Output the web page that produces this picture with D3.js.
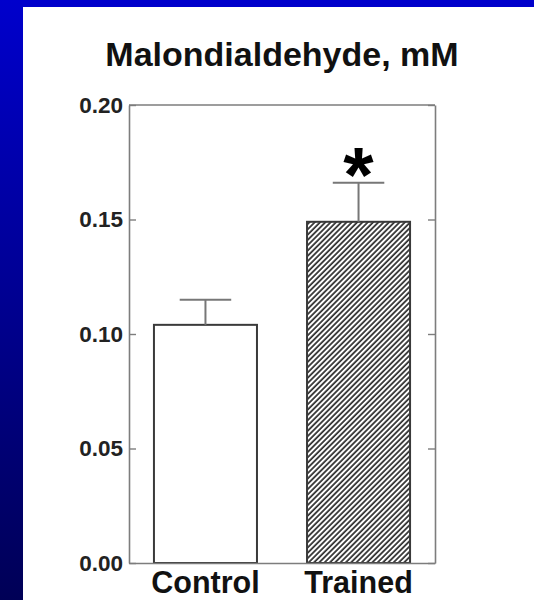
<!DOCTYPE html>
<html>
<head>
<meta charset="utf-8">
<script src="https://cdn.jsdelivr.net/npm/d3@7"></script>
<style>
  html, body { margin: 0; padding: 0; background: #fff; }
  svg { display: block; }
  text { font-family: "Liberation Sans", Arial, sans-serif; font-weight: bold; }
</style>
</head>
<body>
<svg id="chart" width="534" height="600"></svg>
<script>
// ---- data ----
const categories = ["Control", "Trained"];
const means = [0.104, 0.149];
const errors = [0.011, 0.017];
const significant = [false, true];
const yTicks = [0, 0.05, 0.10, 0.15, 0.20];
const titleText = "Malondialdehyde, mM";

// ---- layout ----
const W = 534, H = 600;
const plot = { left: 129, right: 435, top: 105, bottom: 563 };

const svg = d3.select("#chart");
const defs = svg.append("defs");

// background gradient (blue slide frame)
const grad = defs.append("linearGradient").attr("id", "bg")
  .attr("x1", 0).attr("y1", 0).attr("x2", 0).attr("y2", 1);
grad.append("stop").attr("offset", "0%").attr("stop-color", "#0000cc");
grad.append("stop").attr("offset", "100%").attr("stop-color", "#000056");
svg.append("rect").attr("x", 0).attr("y", 0).attr("width", W).attr("height", H).attr("fill", "url(#bg)");
svg.append("rect").attr("x", 23).attr("y", 7).attr("width", W - 23).attr("height", H - 7).attr("fill", "#ffffff");

// hatch pattern
const pat = defs.append("pattern").attr("id", "hatch")
  .attr("patternUnits", "userSpaceOnUse")
  .attr("width", 3.75).attr("height", 10)
  .attr("patternTransform", "rotate(45)");
pat.append("rect").attr("width", 3.75).attr("height", 10).attr("fill", "#ffffff");
pat.append("line").attr("x1", 1).attr("y1", 0).attr("x2", 1).attr("y2", 10)
  .attr("stroke", "#2a2a2a").attr("stroke-width", 1.7);

// scales
const y = d3.scaleLinear().domain([0, 0.2]).range([plot.bottom, plot.top]);
const x = d3.scaleBand().domain(categories).range([plot.left, plot.right])
  .paddingInner(0.327).paddingOuter(0.163);

const frameColor = "#7d7d7d";

// title
svg.append("text")
  .attr("x", (plot.left + plot.right) / 2)
  .attr("y", 66)
  .attr("text-anchor", "middle")
  .attr("font-size", 34)
  .attr("fill", "#111")
  .text(titleText);

// bars
const bars = svg.append("g");
categories.forEach((c, i) => {
  bars.append("rect")
    .attr("x", x(c))
    .attr("y", y(means[i]))
    .attr("width", x.bandwidth())
    .attr("height", y(0) - y(means[i]))
    .attr("fill", i === 1 ? "url(#hatch)" : "#ffffff")
    .attr("stroke", "#3a3a3a")
    .attr("stroke-width", 2);
});

// error bars
const eb = svg.append("g").attr("stroke", "#777").attr("stroke-width", 2).attr("fill", "none");
categories.forEach((c, i) => {
  const cx = x(c) + x.bandwidth() / 2;
  const half = x.bandwidth() * 0.25;
  eb.append("line").attr("x1", cx).attr("x2", cx)
    .attr("y1", y(means[i])).attr("y2", y(means[i] + errors[i]));
  eb.append("line").attr("x1", cx - half).attr("x2", cx + half)
    .attr("y1", y(means[i] + errors[i])).attr("y2", y(means[i] + errors[i]));
});

// significance star
categories.forEach((c, i) => {
  if (!significant[i]) return;
  svg.append("text")
    .attr("x", x(c) + x.bandwidth() / 2)
    .attr("y", y(means[i] + errors[i]) + 19)
    .attr("text-anchor", "middle")
    .attr("font-size", 78)
    .attr("fill", "#000")
    .text("*");
});

// left axis
const leftAxis = d3.axisLeft(y).tickValues(yTicks).tickFormat(d3.format(".2f"))
  .tickSizeInner(-7).tickSizeOuter(0).tickPadding(6);
const gL = svg.append("g").attr("transform", `translate(${plot.left},0)`).call(leftAxis);
gL.select(".domain").attr("stroke", frameColor).attr("stroke-width", 1.6);
gL.selectAll(".tick line").attr("stroke", frameColor).attr("stroke-width", 1.4);
gL.selectAll(".tick text").attr("font-size", 22.5).attr("fill", "#222")
  .attr("font-family", "'Liberation Sans', Arial, sans-serif").attr("font-weight", "bold");

// right axis
const rightAxis = d3.axisRight(y).tickValues(yTicks).tickFormat("")
  .tickSizeInner(-7).tickSizeOuter(0);
const gR = svg.append("g").attr("transform", `translate(${plot.right},0)`).call(rightAxis);
gR.select(".domain").attr("stroke", frameColor).attr("stroke-width", 1.6);
gR.selectAll(".tick line").attr("stroke", frameColor).attr("stroke-width", 1.4);

// top line
svg.append("line").attr("x1", plot.left).attr("x2", plot.right)
  .attr("y1", plot.top).attr("y2", plot.top)
  .attr("stroke", frameColor).attr("stroke-width", 1.6);

// bottom axis
const bottomAxis = d3.axisBottom(x).tickSize(0).tickPadding(8);
const gB = svg.append("g").attr("transform", `translate(0,${plot.bottom})`).call(bottomAxis);
gB.select(".domain").attr("stroke", frameColor).attr("stroke-width", 1.6);
gB.selectAll(".tick text").attr("font-size", 30.5).attr("fill", "#111")
  .attr("font-family", "'Liberation Sans', Arial, sans-serif").attr("font-weight", "bold");
</script>
</body>
</html>
